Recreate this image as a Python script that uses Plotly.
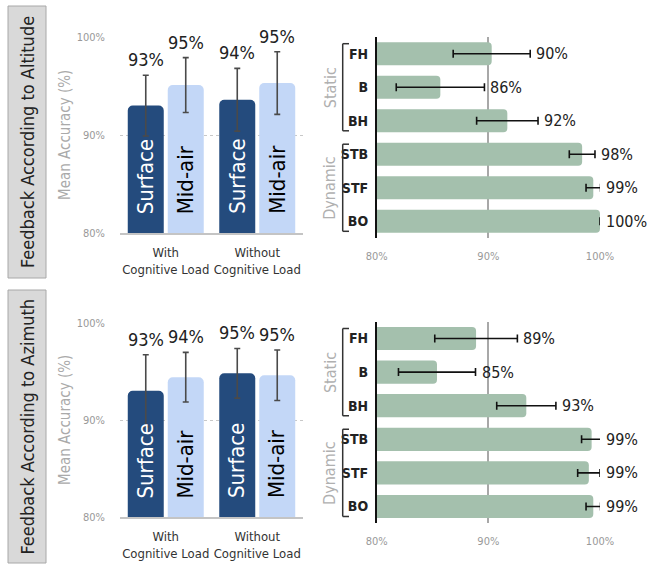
import plotly.graph_objects as go

W, H = 647, 568
FONT = "DejaVu Sans Condensed, Roboto, sans-serif"

# ---------------- data ----------------
conditions = ["With<br>Cognitive Load", "Without<br>Cognitive Load"]
interfaces = ["Surface", "Mid-air"]

alt_surface = [93.0, 93.6]
alt_surface_err = [3.1, 3.2]
alt_midair = [95.1, 95.3]
alt_midair_err = [2.8, 3.2]

azi_surface = [93.0, 94.8]
azi_surface_err = [3.7, 2.55]
azi_midair = [94.4, 94.6]
azi_midair_err = [2.55, 2.6]

movements = ["FH", "B", "BH", "STB", "STF", "BO"]
groups = ["Static", "Dynamic"]
alt_move = [90.3, 85.7, 91.7, 98.4, 99.4, 100.0]
alt_move_err = [3.45, 3.95, 2.75, 1.15, 0.65, 0.0]
azi_move = [88.9, 85.4, 93.4, 99.25, 99.0, 99.4]
azi_move_err = [3.7, 3.45, 2.65, 0.9, 1.0, 0.65]

panel_titles = ["Feedback According to Altitude", "Feedback According to Azimuth"]

SURF_COL = "#244b7d"
MID_COL = "#c3d7f7"
GREEN = "#a4c0ad"

def px_x(p):
    return p / W

def px_y(p):
    return 1 - p / H

fig = go.Figure()
annotations = []
shapes = []

rows = [
    dict(surf=alt_surface, surf_e=alt_surface_err, mid=alt_midair, mid_e=alt_midair_err,
         mv=alt_move, mv_e=alt_move_err,
         ly=(37, 233), ry=(37, 238), box=(6, 278), title=panel_titles[0], n=1),
    dict(surf=azi_surface, surf_e=azi_surface_err, mid=azi_midair, mid_e=azi_midair_err,
         mv=azi_move, mv_e=azi_move_err,
         ly=(322.7, 517.3), ry=(321.7, 523.3), box=(290, 563), title=panel_titles[1], n=2),
]

layout_axes = {}
for r in rows:
    i = r["n"]
    lx = "x" if i == 1 else "x3"
    ly = "y" if i == 1 else "y3"
    rx = "x2" if i == 1 else "x4"
    ry = "y2" if i == 1 else "y4"

    # grouped bar chart (left)
    for name, vals, errs, col, txtcol, shift in [
        (interfaces[0], r["surf"], r["surf_e"], SURF_COL, "white", -20),
        (interfaces[1], r["mid"], r["mid_e"], MID_COL, "black", 20),
    ]:
        fig.add_trace(go.Bar(
            x=conditions, y=vals, name=name, xaxis=lx, yaxis=ly,
            marker=dict(color=col, cornerradius=5, line=dict(width=0)),
            error_y=dict(type="data", array=errs, color="#4a4a4a", thickness=1.6, width=3),
            showlegend=False, hoverinfo="skip",
        ))
        for c, v, e in zip(conditions, vals, errs):
            annotations.append(dict(
                x=c, y=v + e, xref=lx, yref=ly, xshift=shift, yshift=3,
                yanchor="bottom", xanchor="center", showarrow=False,
                text=f"{v:.0f}%", font=dict(size=18, color="#222", family=FONT)))
            annotations.append(dict(
                x=c, y=80, xref=lx, yref=ly, xshift=shift, yshift=17,
                yanchor="bottom", xanchor="center", showarrow=False, textangle=-90,
                text=name, font=dict(size=22, color=txtcol, family=FONT)))

    # horizontal bar chart (right)
    fig.add_trace(go.Bar(
        y=movements, x=r["mv"], orientation="h", xaxis=rx, yaxis=ry,
        marker=dict(color=GREEN, cornerradius=4, line=dict(width=0)),
        error_x=dict(type="data", array=r["mv_e"], color="#111", thickness=1.6, width=4),
        showlegend=False, hoverinfo="skip",
    ))
    for m, v, e in zip(movements, r["mv"], r["mv_e"]):
        annotations.append(dict(
            x=min(v + e, 100), y=m, xref=rx, yref=ry, xshift=5, borderpad=0,
            xanchor="left", yanchor="middle", showarrow=False,
            text=f"{v:.0f}%", font=dict(size=16, color="#222", family=FONT)))

    # axes
    ld = [px_y(r["ly"][1]), px_y(r["ly"][0])]
    rd = [px_y(r["ry"][1]), px_y(r["ry"][0])]
    key = lambda a: ("xaxis" if a.startswith("x") else "yaxis") + (a[1:] if len(a) > 1 else "")
    layout_axes[key(lx)] = dict(
        domain=[px_x(120), px_x(303)], anchor=ly, type="category",
        showline=True, linecolor="#c4c4c4", linewidth=2, showgrid=False,
        tickfont=dict(size=13, color="#333", family=FONT), ticklabelstandoff=6,
        tickangle=0, automargin=False, fixedrange=True)
    layout_axes[key(ly)] = dict(
        domain=ld, anchor=lx, range=[80, 100], dtick=10, ticksuffix="%",
        showgrid=True, gridcolor="#c8c8c8", griddash="dot", gridwidth=1,
        zeroline=False, showline=False,
        tickfont=dict(size=11, color="#999", family=FONT), ticklabelstandoff=14,
        automargin=False, fixedrange=True)
    layout_axes[key(rx)] = dict(
        domain=[px_x(376.7), px_x(600)], anchor=ry, range=[80, 100], dtick=10,
        ticksuffix="%", showgrid=True, gridcolor="#a8a8a8", gridwidth=2,
        zeroline=False, showline=False,
        tickfont=dict(size=11, color="#999", family=FONT), ticklabelstandoff=10,
        automargin=False, fixedrange=True)
    layout_axes[key(ry)] = dict(
        domain=rd, anchor=rx, type="category", categoryorder="array",
        categoryarray=movements, range=[5.5, -0.5],
        showline=True, linecolor="#111", linewidth=1.6, showgrid=False,
        tickfont=dict(size=14, color="#222", family=FONT, weight="bold"),
        ticklabelstandoff=4, automargin=False, fixedrange=True)

    # y title of left chart
    annotations.append(dict(
        x=px_x(65), y=(ld[0] + ld[1]) / 2, xref="paper", yref="paper",
        xanchor="center", yanchor="middle",
        textangle=-90, showarrow=False, text="Mean Accuracy (%)",
        font=dict(size=15, color="#aaa", family=FONT)))

    # side label box
    shapes.append(dict(type="rect", xref="paper", yref="paper",
                       x0=px_x(8), x1=px_x(46), y0=px_y(r["box"][1]), y1=px_y(r["box"][0]),
                       fillcolor="#d9d9d9", line=dict(color="#a8a8a8", width=1), layer="below"))
    annotations.append(dict(
        x=px_x(27), y=px_y((r["box"][0] + r["box"][1]) / 2), xref="paper", yref="paper",
        xanchor="center", yanchor="middle",
        textangle=-90, showarrow=False, text=r["title"],
        font=dict(size=18, color="#222", family=FONT)))

    # brackets for Static / Dynamic groups
    bx0, bx1 = px_x(342.7), px_x(349)
    for g, (a, b) in zip(groups, [(-0.3, 2.3), (2.7, 5.3)]):
        line = dict(color="#333", width=1.5)
        shapes.append(dict(type="line", xref="paper", yref=ry, x0=bx0, x1=bx0, y0=a, y1=b, line=line))
        shapes.append(dict(type="line", xref="paper", yref=ry, x0=bx0, x1=bx1, y0=a, y1=a, line=line))
        shapes.append(dict(type="line", xref="paper", yref=ry, x0=bx0, x1=bx1, y0=b, y1=b, line=line))
        annotations.append(dict(
            x=px_x(330), y=(a + b) / 2, xref="paper", yref=ry, textangle=-90,
            xanchor="center", yanchor="middle",
            showarrow=False, text=g, font=dict(size=16, color="#b0b0b0", family=FONT)))

fig.update_layout(
    width=W, height=H, margin=dict(l=0, r=0, t=0, b=0, autoexpand=False),
    paper_bgcolor="white", plot_bgcolor="white",
    barmode="group", bargap=0.126, bargroupgap=0.1,
    font=dict(family=FONT),
    annotations=annotations, shapes=shapes,
    **layout_axes,
)
fig.update_traces(selector=dict(orientation="h"), width=0.69)

fig.write_html("out.html", config={"displayModeBar": False},
               post_script="document.body.style.margin='0';")
